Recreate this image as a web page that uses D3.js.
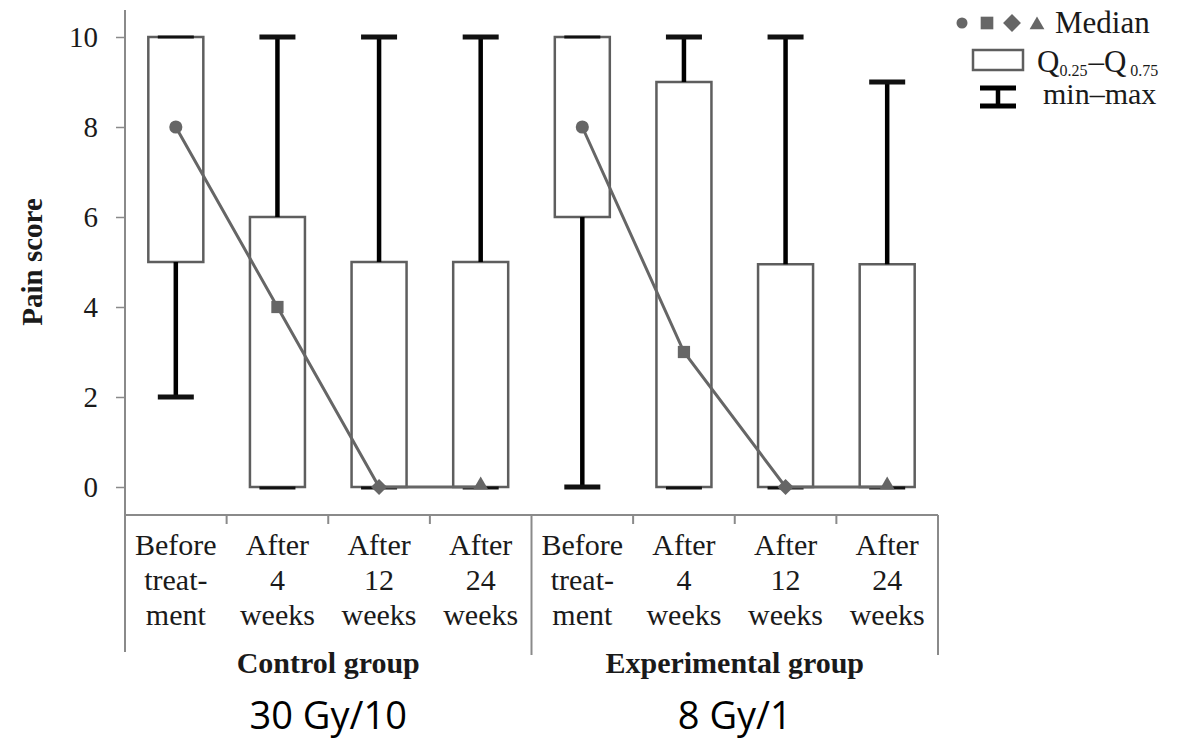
<!DOCTYPE html>
<html>
<head>
<meta charset="utf-8">
<script src="https://cdn.jsdelivr.net/npm/d3@7"></script>
<style>
  body { margin: 0; background: #fff; }
  text { font-family: "Liberation Serif", "Times New Roman", serif; fill: #1a1a1a; }
  .dose { font-family: "Open Sans", "Noto Sans", sans-serif; fill: #000; }
</style>
</head>
<body>
<script>
// data
const groups = ["Control group", "Experimental group"];
const doses = ["30 Gy/10", "8 Gy/1"];
const timeLabels = [["Before", "treat-", "ment"], ["After", "4", "weeks"], ["After", "12", "weeks"], ["After", "24", "weeks"]];

const controlMin = [2, 0, 0, 0];
const controlQ1 = [5, 0, 0, 0];
const controlMedian = [8, 4, 0, 0];
const controlQ3 = [10, 6, 5, 5];
const controlMax = [10, 10, 10, 10];

const expMin = [0, 0, 0, 0];
const expQ1 = [6, 0, 0, 0];
const expMedian = [8, 3, 0, 0];
const expQ3 = [10, 9, 4.95, 4.95];
const expMax = [10, 10, 10, 9];

const yTicks = [0, 2, 4, 6, 8, 10];

const W = 1184, H = 741;
const svg = d3.select("body").append("svg").attr("width", W).attr("height", H);

// one key per box: 0-0 ... 1-3
const keys = [];
groups.forEach((g, gi) => timeLabels.forEach((t, ti) => keys.push(gi + "-" + ti)));

const x = d3.scaleBand().domain(keys).range([125, 938]).padding(0);
const y = d3.scaleLinear().domain([0, 10]).range([487, 37]);

const boxes = [];
[[controlMin, controlQ1, controlMedian, controlQ3, controlMax],
 [expMin, expQ1, expMedian, expQ3, expMax]].forEach((s, gi) => {
  for (let i = 0; i < 4; i++) {
    boxes.push({ key: gi + "-" + i, g: gi, t: i, min: s[0][i], q1: s[1][i], med: s[2][i], q3: s[3][i], max: s[4][i] });
  }
});

const axisColor = "#8a8a8a";
const markColor = "#666";
const symbols = [d3.symbolCircle, d3.symbolSquare, d3.symbolSquare, d3.symbolTriangle];
const symSizes = [135, 150, 130, 95];
const symRot = [0, 0, 45, 0];

// y axis
const yAxis = svg.append("g").attr("transform", "translate(125,0)")
  .call(d3.axisLeft(y).tickValues(yTicks).tickSize(9).tickPadding(18));
yAxis.select(".domain").remove();
yAxis.selectAll(".tick line").attr("stroke", axisColor).attr("stroke-width", 1.5);
yAxis.selectAll(".tick text").attr("font-size", 29).attr("fill", "#222")
  .style("font-family", '"Liberation Serif", serif');

svg.append("line").attr("x1", 125).attr("x2", 125).attr("y1", 10).attr("y2", 652)
  .attr("stroke", axisColor).attr("stroke-width", 2);

// x axis frame
svg.append("line").attr("x1", 125).attr("x2", 938).attr("y1", 515).attr("y2", 515)
  .attr("stroke", axisColor).attr("stroke-width", 2);
[x("1-0"), x.range()[1]].forEach(px => {
  svg.append("line").attr("x1", px).attr("x2", px).attr("y1", 515).attr("y2", 655)
    .attr("stroke", axisColor).attr("stroke-width", 2);
});
keys.filter(k => !k.endsWith("-0")).forEach(k => {
  svg.append("line").attr("x1", x(k)).attr("x2", x(k)).attr("y1", 515).attr("y2", 524)
    .attr("stroke", axisColor).attr("stroke-width", 2);
});

svg.append("text").attr("transform", "translate(42,262) rotate(-90)")
  .attr("text-anchor", "middle").attr("font-size", 29).attr("font-weight", "bold")
  .text("Pain score");

// boxes
const bw = 55, cw = 36;
const b = svg.append("g").selectAll("g").data(boxes).enter().append("g");
b.append("rect")
  .attr("x", d => x(d.key) + x.bandwidth() / 2 - bw / 2)
  .attr("width", bw)
  .attr("y", d => y(d.q3))
  .attr("height", d => y(d.q1) - y(d.q3))
  .attr("fill", "#fff").attr("stroke", "#5e5e5e").attr("stroke-width", 2.5);

// whiskers
b.filter(d => d.max > d.q3).append("line")
  .attr("x1", d => x(d.key) + x.bandwidth() / 2).attr("x2", d => x(d.key) + x.bandwidth() / 2)
  .attr("y1", d => y(d.q3)).attr("y2", d => y(d.max))
  .attr("stroke", "#000").attr("stroke-width", 4.5);
b.filter(d => d.min < d.q1).append("line")
  .attr("x1", d => x(d.key) + x.bandwidth() / 2).attr("x2", d => x(d.key) + x.bandwidth() / 2)
  .attr("y1", d => y(d.q1)).attr("y2", d => y(d.min))
  .attr("stroke", "#000").attr("stroke-width", 4.5);
b.append("line")
  .attr("x1", d => x(d.key) + x.bandwidth() / 2 - cw / 2).attr("x2", d => x(d.key) + x.bandwidth() / 2 + cw / 2)
  .attr("y1", d => y(d.max)).attr("y2", d => y(d.max))
  .attr("stroke", "#111").attr("stroke-width", d => d.max === d.q3 ? 3 : 5);
b.append("line")
  .attr("x1", d => x(d.key) + x.bandwidth() / 2 - cw / 2).attr("x2", d => x(d.key) + x.bandwidth() / 2 + cw / 2)
  .attr("y1", d => y(d.min) + (d.min === d.q1 ? 1 : 0)).attr("y2", d => y(d.min) + (d.min === d.q1 ? 1 : 0))
  .attr("stroke", "#111").attr("stroke-width", d => d.min === d.q1 ? 3 : 5);

// median lines per group
const line = d3.line().x(d => x(d.key) + x.bandwidth() / 2).y(d => y(d.med));
groups.forEach((g, gi) => {
  svg.append("path").datum(boxes.filter(d => d.g === gi))
    .attr("d", line).attr("fill", "none").attr("stroke", markColor).attr("stroke-width", 3);
});
svg.append("g").selectAll("path").data(boxes).enter().append("path")
  .attr("d", d => d3.symbol().type(symbols[d.t]).size(symSizes[d.t])())
  .attr("transform", d => "translate(" + (x(d.key) + x.bandwidth() / 2) + "," + (y(d.med) - (d.t === 3 ? 2 : 0)) + ") rotate(" + symRot[d.t] + ")")
  .attr("fill", markColor);

// category labels
const cat = svg.append("g").selectAll("text").data(boxes).enter().append("text")
  .attr("text-anchor", "middle").attr("font-size", 30);
cat.selectAll("tspan").data(d => timeLabels[d.t].map(l => ({ l: l, cx: x(d.key) + x.bandwidth() / 2 })))
  .enter().append("tspan")
  .attr("x", d => d.cx).attr("y", (d, i) => 555 + i * 35).text(d => d.l);

// group and dose labels
groups.forEach((g, gi) => {
  const cx = (x(gi + "-0") + x(gi + "-3") + x.bandwidth()) / 2;
  svg.append("text").attr("x", cx).attr("y", 673).attr("text-anchor", "middle")
    .attr("font-size", 30).attr("font-weight", "bold").text(g);
  svg.append("text").attr("class", "dose").attr("x", cx).attr("y", 729).attr("text-anchor", "middle")
    .attr("font-size", 38).text(doses[gi]);
});

// legend
const leg = svg.append("g");
[962, 987, 1012, 1037].forEach((lx, i) => {
  leg.append("path").attr("d", d3.symbol().type(symbols[i]).size([95, 160, 160, 95][i])())
    .attr("transform", "translate(" + lx + "," + (i === 3 ? 25 : 23) + ") rotate(" + symRot[i] + ")")
    .attr("fill", markColor);
});
leg.append("text").attr("x", 1055).attr("y", 33).attr("font-size", 31).text("Median");
leg.append("rect").attr("x", 973).attr("y", 50).attr("width", 50).attr("height", 20)
  .attr("fill", "#fff").attr("stroke", "#5e5e5e").attr("stroke-width", 2.5);
const q = leg.append("text").attr("x", 1037).attr("y", 72).attr("font-size", 31);
q.append("tspan").text("Q");
q.append("tspan").attr("font-size", 16).attr("dy", 4).text("0.25");
q.append("tspan").attr("dy", -4).attr("dx", 1).text("–Q");
q.append("tspan").attr("font-size", 16).attr("dy", 4).attr("dx", 4).text("0.75");
leg.append("line").attr("x1", 998).attr("x2", 998).attr("y1", 88).attr("y2", 106)
  .attr("stroke", "#000").attr("stroke-width", 4.5);
[88, 106].forEach(ly => {
  leg.append("line").attr("x1", 980).attr("x2", 1016).attr("y1", ly).attr("y2", ly)
    .attr("stroke", "#000").attr("stroke-width", 5);
});
leg.append("text").attr("x", 1043).attr("y", 104).attr("font-size", 30).text("min–max");
</script>
</body>
</html>
